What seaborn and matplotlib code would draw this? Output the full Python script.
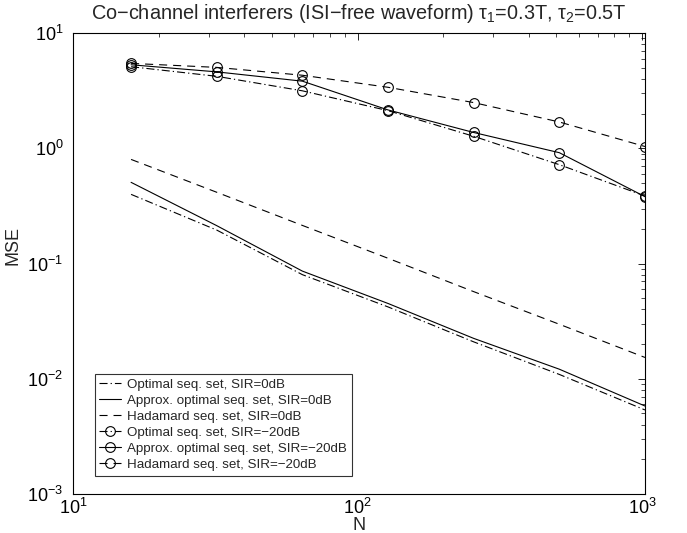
import matplotlib
matplotlib.use("Agg")
import matplotlib.pyplot as plt
import seaborn as sns
import numpy as np

# ---- data ----
N = [16, 32, 64, 128, 256, 512, 1024]
opt_0dB = [0.398, 0.195, 0.080, 0.042, 0.0209, 0.0109, 0.00536]
approx_0dB = [0.506, 0.213, 0.0859, 0.045, 0.0224, 0.0121, 0.0058]
had_0dB = [0.80, 0.415, 0.214, 0.111, 0.057, 0.0297, 0.0153]
opt_m20 = [5.1, 4.21, 3.15, 2.12, 1.27, 0.72, 0.385]
approx_m20 = [5.3, 4.6, 3.82, 2.15, 1.37, 0.915, 0.38]
had_m20 = [5.45, 5.03, 4.30, 3.38, 2.49, 1.69, 1.035]

labels = [
    "Optimal seq. set, SIR=0dB",
    "Approx. optimal seq. set, SIR=0dB",
    "Hadamard seq. set, SIR=0dB",
    "Optimal seq. set, SIR=\u221220dB",
    "Approx. optimal seq. set, SIR=\u221220dB",
    "Hadamard seq. set, SIR=\u221220dB",
]
title = "Co\u2212channel interferers (ISI\u2212free waveform) $\\tau_1$=0.3T, $\\tau_2$=0.5T"

sns.set_style("white")
plt.rcParams["font.family"] = ["Liberation Sans", "DejaVu Sans"]
plt.rcParams["mathtext.fontset"] = "custom"
plt.rcParams["mathtext.rm"] = "Liberation Sans"
plt.rcParams["mathtext.it"] = "Liberation Sans"
plt.rcParams["axes.unicode_minus"] = True
plt.rcParams["lines.scale_dashes"] = False

fig = plt.figure(figsize=(6.87, 5.33), dpi=100)
ax = fig.add_axes([73 / 687, 1 - 494 / 533, (645 - 73) / 687, (494 - 33) / 533])

dashdot = (0, (5.8, 2.2, 0.9, 2.2))
dashed = (0, (5.8, 4.3))
series = [opt_0dB, approx_0dB, had_0dB, opt_m20, approx_m20, had_m20]
styles = [dashdot, "-", dashed, dashdot, "-", dashed]
markers = [None, None, None, "o", "o", "o"]
for y, ls, mk, lab in zip(series, styles, markers, labels):
    kw = dict(color="black", linewidth=0.8, linestyle=ls, label=lab)
    if mk:
        kw.update(marker="o", markersize=7, markerfacecolor="none",
                  markeredgecolor="black", markeredgewidth=0.8)
    sns.lineplot(x=N, y=y, ax=ax, **kw)

ax.set_xscale("log")
ax.set_yscale("log")
ax.set_xlim(10, 1024)
ax.set_ylim(1e-3, 1e1)
ax.set_xticks([10, 100, 1000])
ax.set_yticks([1e-3, 1e-2, 1e-1, 1e0, 1e1])
ax.tick_params(which="both", direction="in", top=True, right=True,
               labelsize=13, colors="black")
ax.tick_params(which="major", length=5, width=0.6)
ax.tick_params(axis="x", which="major", pad=3)
ax.tick_params(axis="y", which="major", pad=7)
ax.tick_params(which="minor", length=3, width=0.5)
for s in ax.spines.values():
    s.set_color("black")
    s.set_linewidth(0.8)

ax.set_xlabel("N", fontsize=13, labelpad=-1)
ax.set_ylabel("MSE", fontsize=13)
ax.yaxis.set_label_coords(-0.09, 0.54)
ax.set_title(title, fontsize=14.3, pad=10)

leg = ax.legend(loc="lower left", bbox_to_anchor=(0.038, 0.04), borderaxespad=0,
                fontsize=9.6, frameon=True, fancybox=False, handlelength=1.6,
                labelspacing=0.28, borderpad=0.35, handletextpad=0.5)
leg.get_frame().set_edgecolor("black")
leg.get_frame().set_linewidth(0.8)

fig.savefig("out.png", dpi=100)
